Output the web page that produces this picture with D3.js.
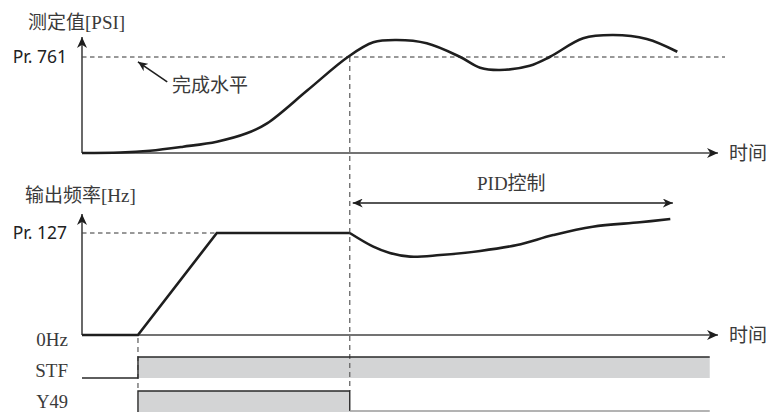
<!DOCTYPE html>
<html>
<head>
<meta charset="utf-8">
<script src="https://cdn.jsdelivr.net/npm/d3@7"></script>
<style>
  html, body { margin: 0; padding: 0; background: #fff; }
  svg { display: block; }
</style>
</head>
<body>
<svg id="chart" width="771" height="412"></svg>
<script>
// ---------- DATA ----------
// time axis in arbitrary units 0..100
const psiTime  = [0, 6.0, 10.7, 15.9, 21.2, 25.9, 29.1, 35.5, 41.8, 45.8, 49.5, 54.2, 59.4, 62.6, 65.7, 70.4, 73.6, 78.8, 83.5, 88.8, 93.6];
const psiValue = [0, 0.5, 2.4, 6.6, 11.8, 20.5, 30.9, 65.6, 100, 115.3, 117.7, 114.3, 100.3, 88.9, 86.5, 90.9, 100.3, 119.5, 122.9, 118.8, 105.5];
const rampTime  = [0, 8.8, 21.2, 42.1];
const rampValue = [0, 0, 100, 100];
const pidTime  = [42.1, 45.8, 48.4, 51.6, 56.3, 62.6, 68.4, 74.1, 80.3, 87.7, 92.5];
const pidValue = [100, 86.6, 80.4, 76.8, 78.4, 82.4, 88.2, 98.0, 106.2, 110.5, 113.7];
const stfOn = [8.8, 98.7];     // STF on interval
const y49On = [8.8, 42.1];     // Y49 on interval
const timeEnd = 98.7;
const pidSpan = [42.1, 92.9];
const levelTop = 100;          // Pr. 761
const levelBottom = 100;       // Pr. 127
const topTitle = "测定值[PSI]";
const bottomTitle = "输出频率[Hz]";
const topTick = "Pr. 761";
const bottomTicks = ["0Hz", "Pr. 127"];
const signalNames = ["STF", "Y49"];
const timeLabel = "时间";
const annoLabel = "完成水平";
const pidLabel = "PID控制";

// ---------- SCALES ----------
const svg = d3.select("#chart");
const x = d3.scaleLinear().domain([0, 100]).range([82, 718]);
const yTop = d3.scaleLinear().domain([0, 100]).range([153, 57]);
const yBot = d3.scaleLinear().domain([0, 100]).range([335, 233]);
const stfHi = 357, stfLo = 378, y49Hi = 391, y49Lo = 411;

const cjk = "'Noto Sans CJK SC', sans-serif";
const mixed = "'Liberation Serif', 'Noto Sans CJK SC', serif";
const sans = "'Noto Sans', 'Open Sans', sans-serif";
const txt = "#3a3a3a";
const ink = "#1e1e1e";

// arrowhead marker
const defs = svg.append("defs");
function marker(id, w, h) {
  defs.append("marker")
    .attr("id", id).attr("markerUnits", "userSpaceOnUse")
    .attr("viewBox", `-${w} -${h} ${w + 1} ${2 * h}`)
    .attr("refX", 0).attr("refY", 0)
    .attr("markerWidth", w + 1).attr("markerHeight", 2 * h)
    .attr("orient", "auto-start-reverse")
    .append("path")
    .attr("d", `M0,0 L-${w},-${h} L-${w * 0.7},0 L-${w},${h} Z`)
    .attr("fill", ink);
}
marker("ah", 11, 5);
marker("ahs", 10, 4.5);

// ---------- dashed reference lines ----------
const dash = "4.5,3.5";
svg.append("line")
  .attr("x1", x(0)).attr("x2", 725).attr("y1", yTop(levelTop)).attr("y2", yTop(levelTop))
  .attr("stroke", "#333").attr("stroke-width", 1).attr("stroke-dasharray", dash);
svg.append("line")
  .attr("x1", x(0)).attr("x2", x(pidSpan[0])).attr("y1", yBot(levelBottom)).attr("y2", yBot(levelBottom))
  .attr("stroke", "#333").attr("stroke-width", 1).attr("stroke-dasharray", dash);

// ---------- signal bands ----------
svg.append("rect")
  .attr("x", x(stfOn[0])).attr("y", stfHi)
  .attr("width", x(stfOn[1]) - x(stfOn[0])).attr("height", stfLo - stfHi)
  .attr("fill", "#d3d4d5");
svg.append("rect")
  .attr("x", x(y49On[0])).attr("y", y49Hi)
  .attr("width", x(y49On[1]) - x(y49On[0])).attr("height", 30)
  .attr("fill", "#d3d4d5");

// vertical dashed lines
svg.append("line")
  .attr("x1", x(pidSpan[0])).attr("x2", x(pidSpan[0]))
  .attr("y1", yTop(levelTop)).attr("y2", y49Hi)
  .attr("stroke", "#666").attr("stroke-width", 1.3).attr("stroke-dasharray", "5,4");
svg.append("line")
  .attr("x1", x(stfOn[0])).attr("x2", x(stfOn[0]))
  .attr("y1", yBot(0) + 3).attr("y2", y49Hi)
  .attr("stroke", "#666").attr("stroke-width", 1.3).attr("stroke-dasharray", "5,4");

// signal edges
const lineXY = d3.line();
svg.append("path")
  .attr("d", lineXY([[x(0), stfLo], [x(stfOn[0]), stfLo], [x(stfOn[0]), stfHi], [x(stfOn[1]), stfHi]]))
  .attr("fill", "none").attr("stroke", "#2a2a2a").attr("stroke-width", 1.4);
svg.append("path")
  .attr("d", lineXY([[x(y49On[0]), 413], [x(y49On[0]), y49Hi], [x(y49On[1]), y49Hi], [x(y49On[1]), y49Lo]]))
  .attr("fill", "none").attr("stroke", "#2a2a2a").attr("stroke-width", 1.4);
svg.append("line")
  .attr("x1", x(y49On[1])).attr("x2", x(timeEnd)).attr("y1", y49Lo).attr("y2", y49Lo)
  .attr("stroke", "#9a9a9a").attr("stroke-width", 1.4);

// ---------- axes ----------
function axes(yS, top) {
  svg.append("line")
    .attr("x1", x(0)).attr("x2", x(0)).attr("y1", yS(0)).attr("y2", top)
    .attr("stroke", "#444").attr("stroke-width", 1.6).attr("marker-end", "url(#ah)");
  svg.append("line")
    .attr("x1", x(0)).attr("x2", x(100)).attr("y1", yS(0)).attr("y2", yS(0))
    .attr("stroke", "#444").attr("stroke-width", 1.6).attr("marker-end", "url(#ah)");
  svg.append("text")
    .attr("x", x(100) + 11).attr("y", yS(0) + 6.5)
    .attr("font-family", cjk).attr("font-size", 19).attr("fill", txt)
    .text(timeLabel);
}
axes(yTop, 37);
axes(yBot, 214);

// ---------- curves ----------
svg.append("path")
  .datum(psiTime.map((t, i) => [t, psiValue[i]]))
  .attr("d", d3.line().x(d => x(d[0])).y(d => yTop(d[1])).curve(d3.curveCatmullRom.alpha(0.5)))
  .attr("fill", "none").attr("stroke", ink).attr("stroke-width", 2.6);
svg.append("path")
  .datum(rampTime.map((t, i) => [t, rampValue[i]]))
  .attr("d", d3.line().x(d => x(d[0])).y(d => yBot(d[1])))
  .attr("fill", "none").attr("stroke", ink).attr("stroke-width", 2.6).attr("stroke-linejoin", "miter");
svg.append("path")
  .datum(pidTime.map((t, i) => [t, pidValue[i]]))
  .attr("d", d3.line().x(d => x(d[0])).y(d => yBot(d[1])).curve(d3.curveCatmullRom.alpha(0.5)))
  .attr("fill", "none").attr("stroke", ink).attr("stroke-width", 2.6);

// ---------- labels ----------
svg.append("text").attr("x", 28).attr("y", 29)
  .attr("font-family", mixed).attr("font-size", 19).attr("fill", txt).text(topTitle);
svg.append("text").attr("x", 25).attr("y", 202)
  .attr("font-family", mixed).attr("font-size", 19).attr("fill", txt).text(bottomTitle);

svg.append("text").attr("x", 67).attr("y", yTop(levelTop) + 6)
  .attr("text-anchor", "end").attr("font-family", sans).attr("font-size", 17.5).attr("fill", "#222")
  .text(topTick);
svg.append("text").attr("x", 67).attr("y", yBot(levelBottom) + 6)
  .attr("text-anchor", "end").attr("font-family", sans).attr("font-size", 17.5).attr("fill", "#222")
  .text(bottomTicks[1]);
svg.append("text").attr("x", 68).attr("y", yBot(0) + 11)
  .attr("text-anchor", "end").attr("font-family", mixed).attr("font-size", 19).attr("fill", txt)
  .text(bottomTicks[0]);
svg.append("text").attr("x", 68).attr("y", stfLo - 1)
  .attr("text-anchor", "end").attr("font-family", mixed).attr("font-size", 19).attr("fill", txt)
  .text(signalNames[0]);
svg.append("text").attr("x", 68).attr("y", 408)
  .attr("text-anchor", "end").attr("font-family", mixed).attr("font-size", 18.5).attr("fill", txt)
  .text(signalNames[1]);

// annotation arrow
svg.append("line")
  .attr("x1", x(13.4)).attr("y1", yTop(74)).attr("x2", x(8.8)).attr("y2", yTop(95))
  .attr("stroke", ink).attr("stroke-width", 1.6).attr("marker-end", "url(#ahs)");
svg.append("text").attr("x", 172).attr("y", 92)
  .attr("font-family", cjk).attr("font-size", 19).attr("fill", txt).text(annoLabel);

// PID span arrow
svg.append("line")
  .attr("x1", x(pidSpan[0]) + 3).attr("x2", x(pidSpan[1])).attr("y1", 203).attr("y2", 203)
  .attr("stroke", ink).attr("stroke-width", 1.3)
  .attr("marker-start", "url(#ahs)").attr("marker-end", "url(#ahs)");
svg.append("text").attr("x", (x(pidSpan[0]) + x(pidSpan[1])) / 2).attr("y", 190)
  .attr("text-anchor", "middle").attr("font-family", mixed).attr("font-size", 19).attr("fill", txt)
  .text(pidLabel);
</script>
</body>
</html>
